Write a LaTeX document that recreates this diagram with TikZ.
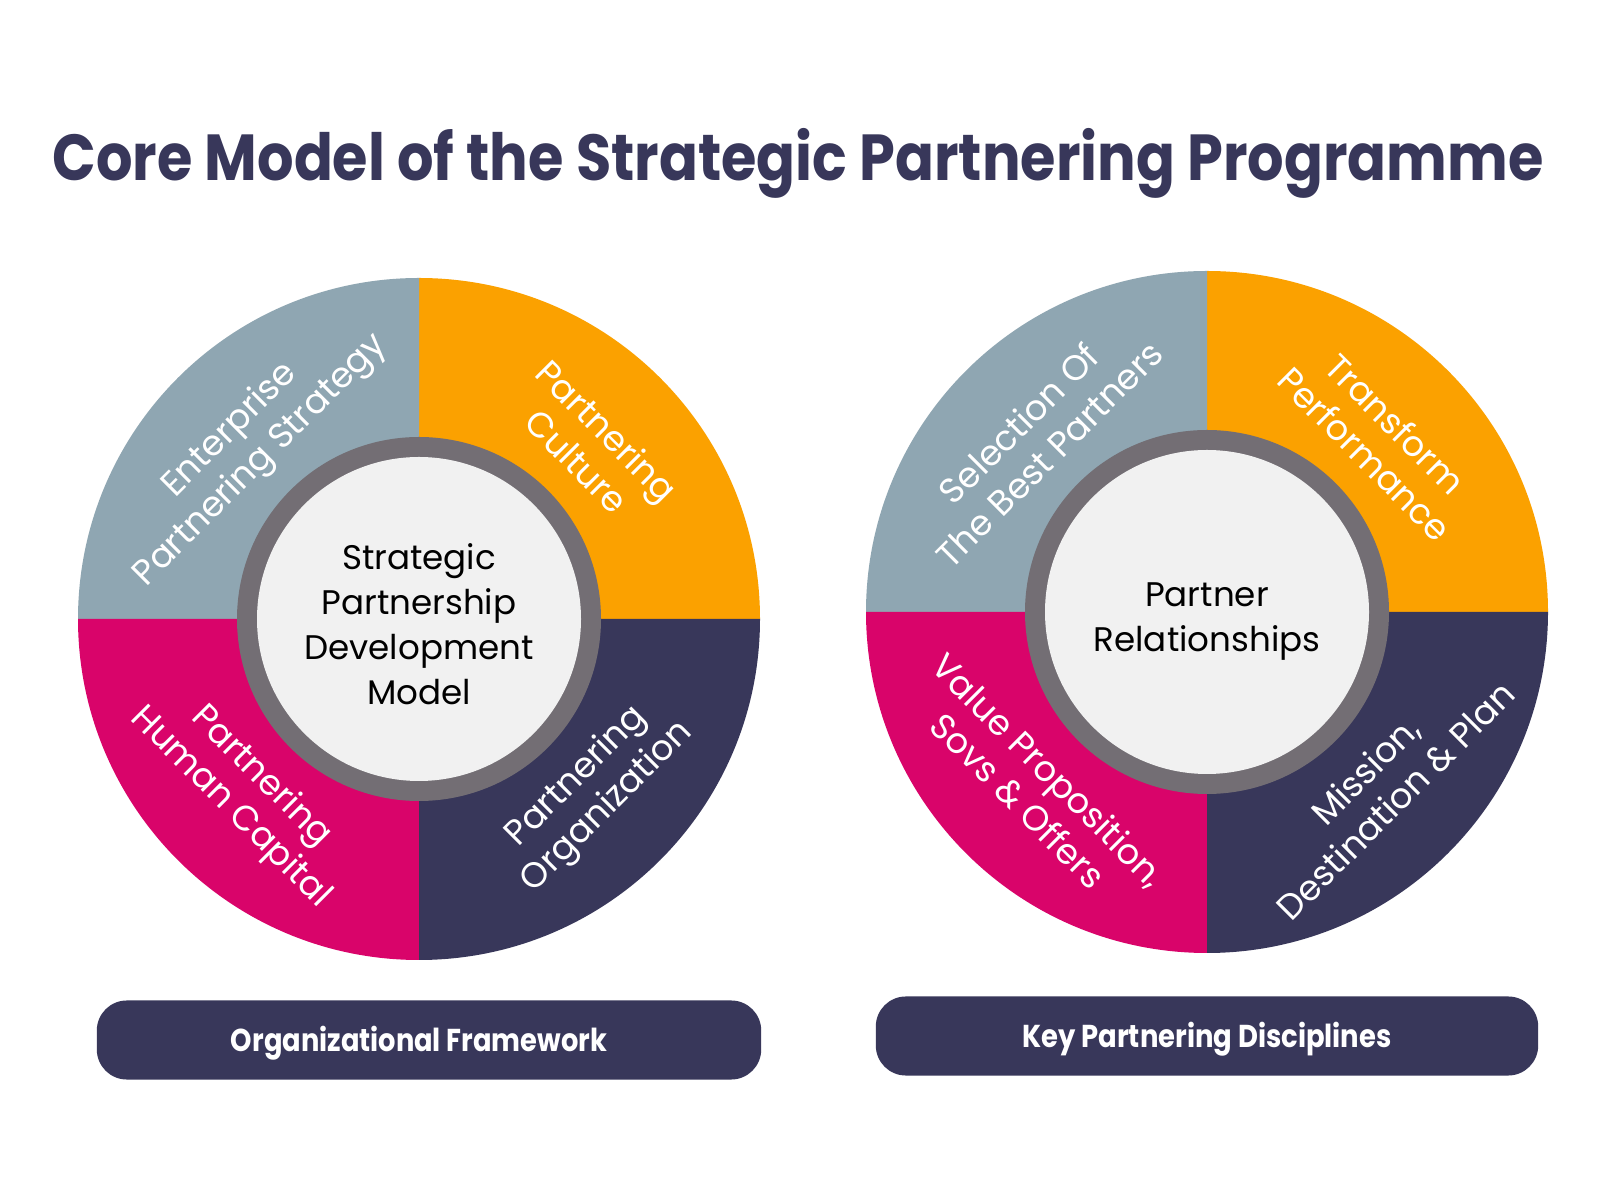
\documentclass[tikz,border=0pt]{standalone}
\usepackage{fontspec}
\setmainfont{Poppins}
\usepackage{graphicx}
\definecolor{navy}{HTML}{38375A}
\definecolor{slate}{HTML}{8FA6B2}
\definecolor{amber}{HTML}{FBA100}
\definecolor{berry}{HTML}{D9046A}
\definecolor{ringgray}{HTML}{736E74}
\definecolor{hubfill}{HTML}{F1F1F1}
\tikzset{
  wedgelabel/.style={text=white, align=center, inner sep=0pt, font=\fontsize{10}{12.2}\selectfont},
  hubtext/.style={text=black, align=center, inner sep=0pt, font=\fontsize{9.7}{12.8}\selectfont},
  pill/.style={fill=navy, rounded corners=0.3cm, minimum height=0.79cm, inner sep=0pt},
  captext/.style={text=white, inner sep=0pt, font=\fontsize{9}{10}\selectfont\bfseries}
}
\begin{document}
\begin{tikzpicture}[x=0.01cm, y=0.01cm]
    \def\R{341}
    \def\rr{182}
    \def\ri{162}
    \def\lr{245}
    \useasboundingbox[fill=white] (0,0) rectangle (1600,1200);
    % Title
    \node[text=navy, font=\fontsize{18.5}{20}\selectfont\bfseries] (title) at (798,1037)
        {\resizebox{14.9cm}{\height}{Core Model of the Strategic Partnering Programme}};
    % Left wheel
    \begin{scope}[shift={(419,581)}]
        \foreach \a/\col in {0/amber, 90/slate, 180/berry, 270/navy}
            \fill[\col] (0,0) -- (\a:\R) arc[start angle=\a, end angle=\a+90, radius=\R] -- cycle;
        \fill[ringgray] (0,0) circle[radius=\rr];
        \fill[hubfill] (0,0) circle[radius=\ri];
        \node[hubtext] (lefthub) at (0,-5) {Strategic\\Partnership\\Development\\Model};
        \node[wedgelabel, rotate=45] (strategy) at (135:\lr) {Enterprise\\Partnering Strategy};
        \node[wedgelabel, rotate=-45] (culture) at (45:\lr) {Partnering\\Culture};
        \node[wedgelabel, rotate=-45] (capital) at (225:\lr) {Partnering\\Human Capital};
        \node[wedgelabel, rotate=45] (organization) at (-45:\lr) {Partnering\\Organization};
    \end{scope}
    % Right wheel
    \begin{scope}[shift={(1207,588)}]
        \foreach \a/\col in {0/amber, 90/slate, 180/berry, 270/navy}
            \fill[\col] (0,0) -- (\a:\R) arc[start angle=\a, end angle=\a+90, radius=\R] -- cycle;
        \fill[ringgray] (0,0) circle[radius=\rr];
        \fill[hubfill] (0,0) circle[radius=\ri];
        \node[hubtext] (righthub) at (0,-10) {Partner\\Relationships};
        \node[wedgelabel, rotate=45] (selection) at (135:\lr) {Selection Of\\The Best Partners};
        \node[wedgelabel, rotate=-45] (transform) at (45:\lr) {Transform\\Performance};
        \node[wedgelabel, rotate=-45] (proposition) at (225:\lr) {Value Proposition,\\Sovs \& Offers};
        \node[wedgelabel, rotate=45] (mission) at (-45:\lr) {Mission,\\Destination \& Plan};
    \end{scope}
    % Captions
    \node[pill, minimum width=6.64cm] (leftcap) at (429,160) {};
    \node[captext] (lefttext) at (419,157) {\resizebox{3.76cm}{\height}{Organizational Framework}};
    \node[pill, minimum width=6.62cm] (rightcap) at (1207,164) {};
    \node[captext] (righttext) at (1207,161) {\resizebox{3.69cm}{\height}{Key Partnering Disciplines}};
\end{tikzpicture}
\end{document}
